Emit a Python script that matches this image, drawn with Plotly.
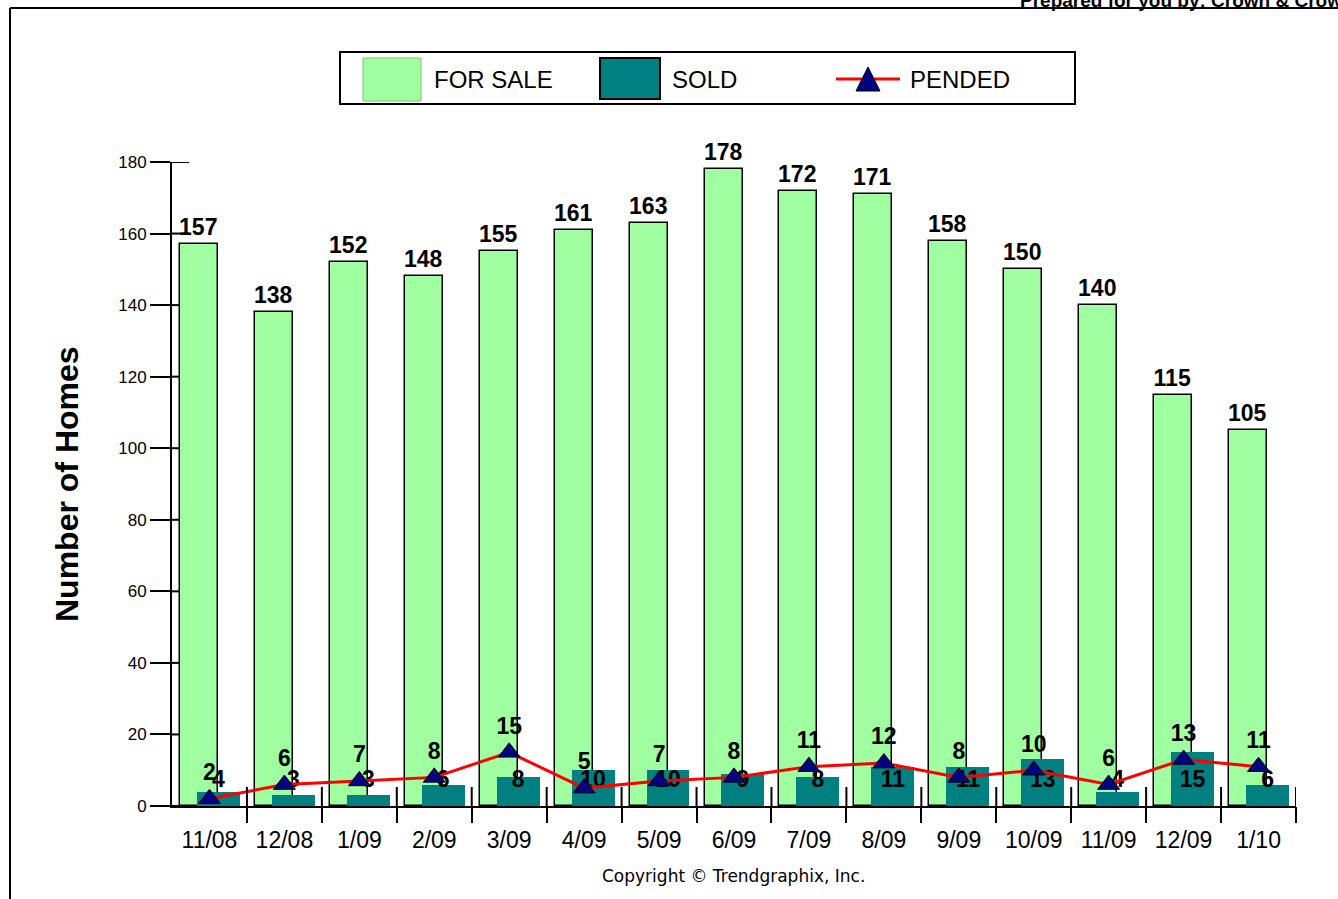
import plotly.graph_objects as go

months = ["11/08", "12/08", "1/09", "2/09", "3/09", "4/09", "5/09", "6/09",
          "7/09", "8/09", "9/09", "10/09", "11/09", "12/09", "1/10"]
for_sale = [157, 138, 152, 148, 155, 161, 163, 178, 172, 171, 158, 150, 140, 115, 105]
sold = [4, 3, 3, 6, 8, 10, 10, 9, 8, 11, 11, 13, 4, 15, 6]
pended = [2, 6, 7, 8, 15, 5, 7, 8, 11, 12, 8, 10, 6, 13, 11]
y_ticks = [0, 20, 40, 60, 80, 100, 120, 140, 160, 180]

FONT = "Arial, 'Liberation Sans', sans-serif"
GREEN = "#A0FFA0"
TEAL = "#008080"

W, H = 1338, 899
L, R, T, B = 172, 42, 162, 93
PW, PH = W - L - R, H - T - B


def px(x):
    return (x - L) / PW


def py(y):
    return (H - B - y) / PH


n = len(months)
idx = list(range(n))
LBL = dict(family=FONT, size=23, color="black", weight="bold")

fig = go.Figure()
fig.add_trace(go.Bar(
    x=idx, y=for_sale, offset=-0.393, width=0.507,
    marker=dict(color=GREEN, line=dict(color="black", width=1.5)),
    text=[str(v) for v in for_sale], textposition="outside", textangle=0,
    constraintext="none", cliponaxis=False, textfont=LBL,
    showlegend=False, name="FOR SALE"))
fig.add_trace(go.Bar(
    x=idx, y=sold, offset=-0.167, width=0.573,
    marker=dict(color=TEAL, line=dict(width=0)),
    showlegend=False, name="SOLD"))
fig.add_trace(go.Scatter(
    x=[i + 0.12 for i in idx], y=[7] * n, mode="text",
    text=[str(v) for v in sold], textposition="middle center",
    textfont=LBL, showlegend=False, hoverinfo="skip", cliponaxis=False))
fig.add_trace(go.Scatter(
    x=idx, y=pended, mode="lines+markers+text",
    line=dict(color="red", width=3),
    marker=dict(symbol="triangle-up", size=19, color="#000080",
                line=dict(color="black", width=1)),
    text=[str(v) for v in pended], textposition="top center",
    textfont=LBL, cliponaxis=False, showlegend=False, name="PENDED"))

shapes = []
# upward part of x boundary ticks
for i in range(1, n + 1):
    shapes.append(dict(type="line", xref="x", yref="paper", x0=i - 0.5, x1=i - 0.5,
                       y0=0, y1=19 / PH, line=dict(color="black", width=2), layer="above"))
# inward part of y ticks
for v in y_ticks:
    shapes.append(dict(type="line", xref="paper", yref="y", x0=0, x1=17 / PW,
                       y0=v, y1=v, line=dict(color="black", width=2), layer="below"))
# outer frame
shapes.append(dict(type="line", xref="paper", yref="paper", x0=px(10), x1=px(10),
                   y0=py(8), y1=py(905), line=dict(color="black", width=2)))
shapes.append(dict(type="line", xref="paper", yref="paper", x0=px(10), x1=px(1345),
                   y0=py(8), y1=py(8), line=dict(color="black", width=2)))
# legend
shapes.append(dict(type="rect", xref="paper", yref="paper", x0=px(340), x1=px(1075),
                   y0=py(104), y1=py(52), line=dict(color="black", width=2),
                   fillcolor="white"))
shapes.append(dict(type="rect", xref="paper", yref="paper", x0=px(363), x1=px(421),
                   y0=py(101), y1=py(58), line=dict(color="#80C080", width=1),
                   fillcolor=GREEN))
shapes.append(dict(type="rect", xref="paper", yref="paper", x0=px(600), x1=px(660),
                   y0=py(99), y1=py(58), line=dict(color="black", width=2),
                   fillcolor=TEAL))
shapes.append(dict(type="line", xref="paper", yref="paper", x0=px(836), x1=px(900),
                   y0=py(79), y1=py(79), line=dict(color="red", width=3)))
shapes.append(dict(type="path", xref="paper", yref="paper",
                   path=f"M {px(856)},{py(91)} L {px(880)},{py(91)} L {px(868)},{py(67)} Z",
                   fillcolor="#000080", line=dict(color="black", width=1)))

LEG = dict(family=FONT, size=24, color="black")
annotations = [
    dict(text="FOR SALE", x=px(432), y=py(79), xref="paper", yref="paper",
         xanchor="left", yanchor="middle", showarrow=False, font=LEG),
    dict(text="SOLD", x=px(670), y=py(79), xref="paper", yref="paper",
         xanchor="left", yanchor="middle", showarrow=False, font=LEG),
    dict(text="PENDED", x=px(908), y=py(79), xref="paper", yref="paper",
         xanchor="left", yanchor="middle", showarrow=False, font=LEG),
    dict(text="Number of Homes", x=px(67), y=py(484), xref="paper", yref="paper",
         xanchor="center", yanchor="middle", textangle=-90, showarrow=False,
         font=dict(family=FONT, size=32, color="black", weight="bold")),
    dict(text="Copyright © Trendgraphix, Inc.", x=px(733), y=py(876),
         xref="paper", yref="paper", xanchor="center", yanchor="middle",
         showarrow=False, font=dict(family="Tahoma, 'DejaVu Sans', sans-serif",
                                    size=17, color="black")),
    dict(text="Prepared for you by: Crown & Crown", x=px(1018), y=py(0),
         xref="paper", yref="paper", xanchor="left", yanchor="middle",
         showarrow=False, font=dict(family=FONT, size=19, color="black",
                                    weight="bold")),
]

fig.update_layout(
    width=W, height=H,
    margin=dict(l=L, r=R, t=T, b=B, autoexpand=False),
    paper_bgcolor="white", plot_bgcolor="white",
    barmode="overlay", bargap=0,
    shapes=shapes, annotations=annotations,
    xaxis=dict(range=[-0.5, n - 0.5], tickmode="array", tickvals=idx,
               ticktext=months, ticks="", showgrid=False, zeroline=False,
               showline=True, linecolor="black", linewidth=2,
               tickfont=dict(family=FONT, size=23, color="black"),
               ticklabelstandoff=12),
    xaxis2=dict(range=[-0.5, n - 0.5], overlaying="x", anchor="y", side="bottom",
                tickmode="array", tickvals=[i - 0.5 for i in range(1, n + 1)],
                ticktext=[""] * n, ticks="outside", ticklen=16, tickwidth=2,
                tickcolor="black", showgrid=False, zeroline=False, showline=False),
    yaxis=dict(range=[0, 180], tickmode="array", tickvals=y_ticks,
               ticks="outside", ticklen=20, tickwidth=2, tickcolor="black",
               showgrid=False, zeroline=False, showline=True, linecolor="black",
               linewidth=2, tickfont=dict(family=FONT, size=17, color="black")),
    showlegend=False,
)
fig.add_trace(go.Scatter(x=[None], y=[None], xaxis="x2", showlegend=False,
                         hoverinfo="skip"))

fig.write_html("out.html", config={"displayModeBar": False},
               post_script="document.body.style.margin='0px';"
                           "document.body.style.overflow='hidden';")
